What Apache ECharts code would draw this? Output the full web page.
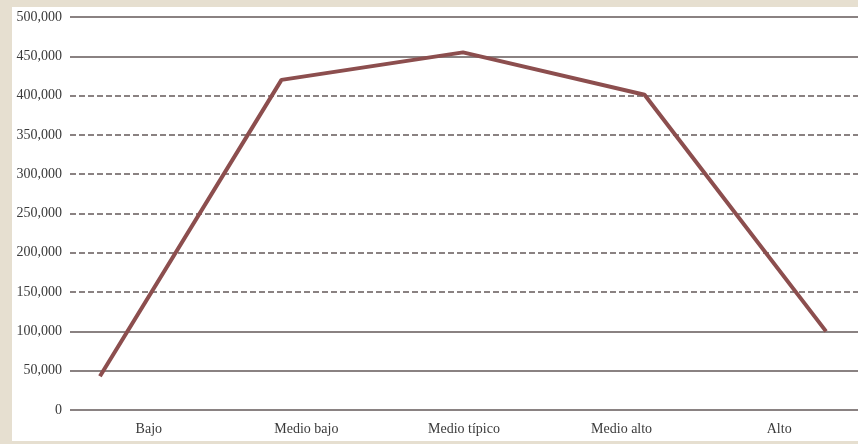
<!DOCTYPE html>
<html>
<head>
<meta charset="utf-8">
<script src="https://cdn.jsdelivr.net/npm/echarts@6/dist/echarts.min.js"></script>
<style>
html,body{margin:0;padding:0;background:#e6dfd0;}
#chart{width:858px;height:444px;}
</style>
</head>
<body>
<div id="chart"></div>
<script>
var categories = ['Bajo', 'Medio bajo', 'Medio típico', 'Medio alto', 'Alto'];
var values = [43000, 420000, 455000, 401000, 100000];
var solidGridValues = [0, 50000, 100000, 450000, 500000];

function fmt(v) {
  return String(v).replace(/\B(?=(\d{3})+(?!\d))/g, ',');
}

var chart = echarts.init(document.getElementById('chart'), null, {renderer: 'canvas'});
var option = {
  backgroundColor: '#e6dfd0',
  animation: false,
  graphic: [{
    type: 'rect', z: -100, silent: true,
    shape: {x: 12, y: 7, width: 846, height: 434},
    style: {fill: '#ffffff'}
  }],
  grid: {left: 70, right: 0, top: 17, bottom: 34},
  xAxis: [{
    type: 'category',
    data: categories,
    boundaryGap: true,
    axisLine: {show: false},
    axisTick: {show: false},
    axisLabel: {margin: 12, color: '#3a3a3a', fontFamily: 'Liberation Serif', fontSize: 14}
  }, {
    type: 'value',
    show: false,
    min: -0.165,
    max: 4.176,
    splitLine: {show: false}
  }],
  yAxis: {
    type: 'value',
    min: 0, max: 500000, interval: 50000,
    axisLine: {show: false},
    axisTick: {show: false},
    axisLabel: {
      margin: 8, color: '#3a3a3a', fontFamily: 'Liberation Serif', fontSize: 14,
      formatter: function (v) { return fmt(v); }
    },
    splitLine: {lineStyle: {color: '#8a8282', width: 2, type: [6, 3]}}
  },
  series: [{
    type: 'line',
    xAxisIndex: 1,
    yAxisIndex: 0,
    data: values.map(function (v, i) { return [i, v]; }),
    symbol: 'none',
    lineStyle: {color: '#8c4e4e', width: 4},
    markLine: {
      silent: true,
      symbol: ['none', 'none'],
      label: {show: false},
      lineStyle: {color: '#8a8282', width: 2, type: 'solid'},
      data: solidGridValues.map(function (v) { return {yAxis: v}; }),
      z: 1
    },
    z: 3
  }]
};
chart.setOption(option);
</script>
</body>
</html>
